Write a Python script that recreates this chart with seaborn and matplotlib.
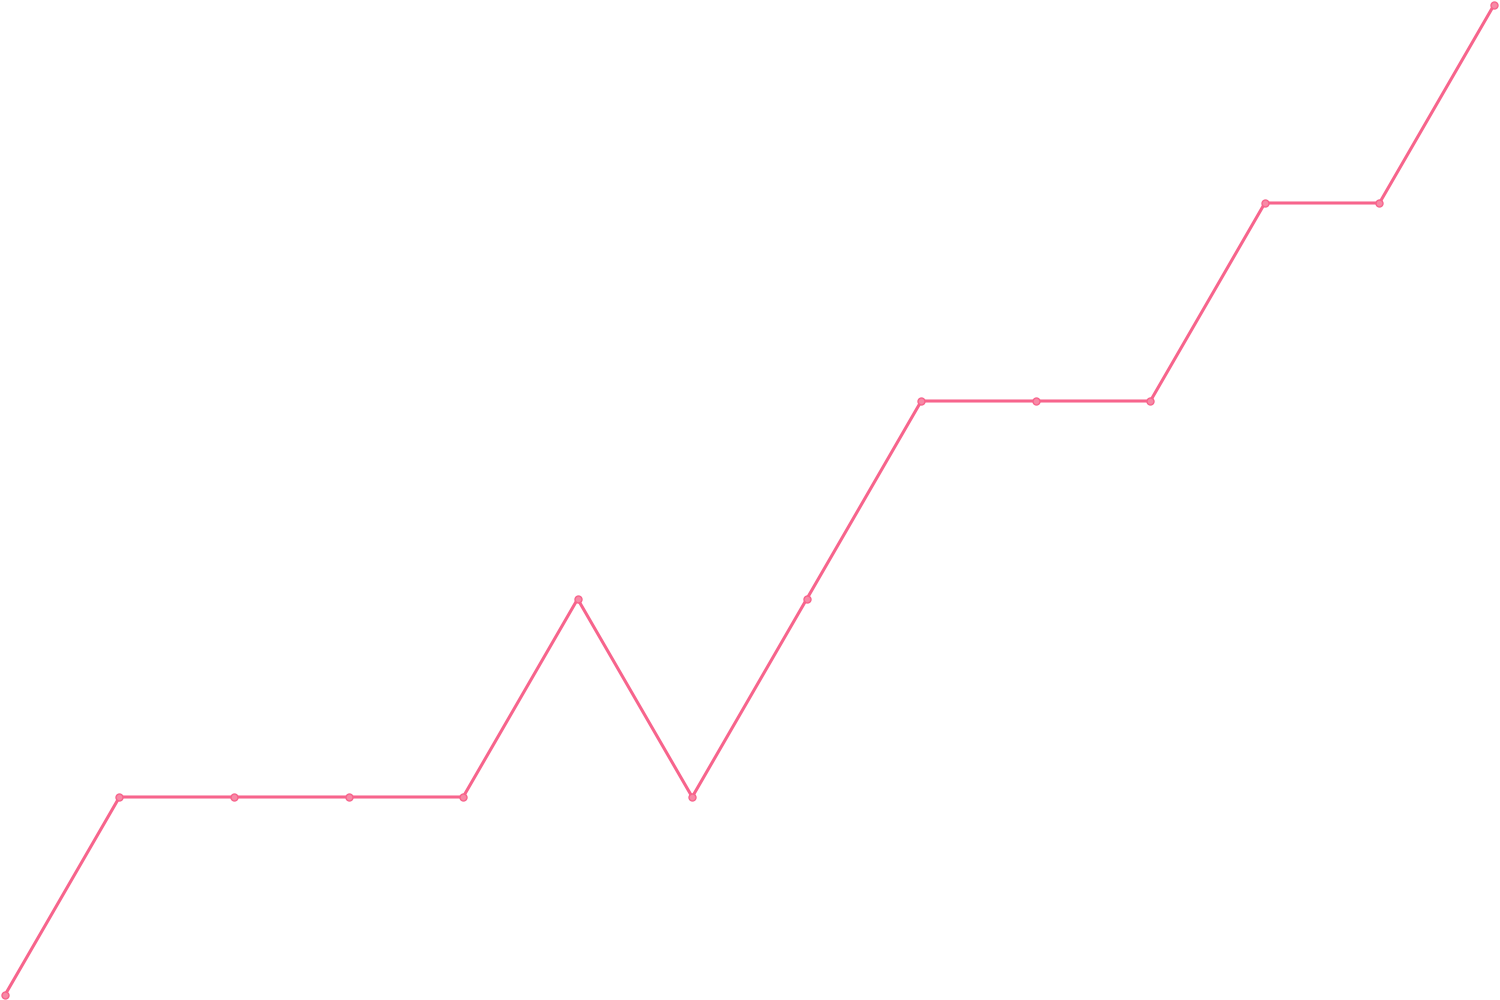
import matplotlib
matplotlib.use("Agg")
import matplotlib.pyplot as plt
import seaborn as sns
import pandas as pd

x_idx = list(range(14))
values = [0, 1, 1, 1, 1, 2, 1, 2, 3, 3, 3, 4, 4, 5]

df = pd.DataFrame({"x": x_idx, "y": values})

sns.set_theme(style="white")
fig = plt.figure(figsize=(15, 10), dpi=100)
ax = fig.add_axes([0.0033, 0.005, 0.9927, 0.99])
sns.lineplot(data=df, x="x", y="y", ax=ax, color="#f7648c", linewidth=2.2,
             marker="o", markersize=5, markeredgewidth=1,
             markeredgecolor="#f7648c", markerfacecolor="#f78aa6")
for ln in ax.lines:
    ln.set_clip_on(False)
ax.set_xlim(0, 13)
ax.set_ylim(0, 5)
ax.axis("off")
fig.savefig("out.png", dpi=100, facecolor="white")
